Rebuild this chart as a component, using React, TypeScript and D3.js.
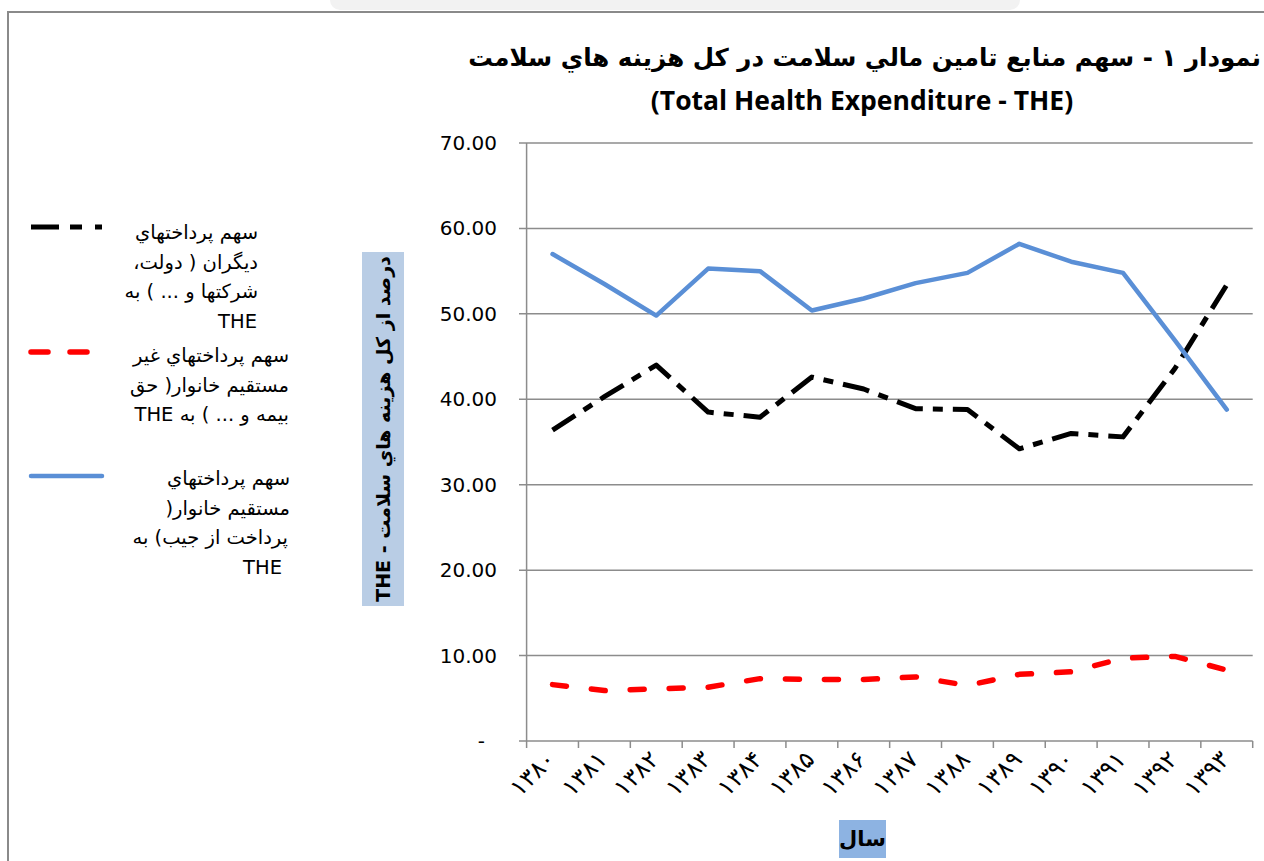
import React, { useEffect, useRef } from "react";
import * as d3 from "d3";

// years (Persian calendar) and shares of THE
const years = ["۱۳۸۰", "۱۳۸۱", "۱۳۸۲", "۱۳۸۳", "۱۳۸۴", "۱۳۸۵", "۱۳۸۶", "۱۳۸۷", "۱۳۸۸", "۱۳۸۹", "۱۳۹۰", "۱۳۹۱", "۱۳۹۲", "۱۳۹۳"];
const others = [36.4, 40.3, 44.0, 38.5, 37.9, 42.6, 41.2, 38.9, 38.8, 34.2, 36.0, 35.6, 43.6, 53.4];
const indirect = [6.6, 5.9, 6.1, 6.3, 7.3, 7.2, 7.2, 7.5, 6.5, 7.8, 8.1, 9.7, 9.9, 8.3];
const direct = [57.0, 53.5, 49.8, 55.3, 55.0, 50.4, 51.8, 53.6, 54.8, 58.2, 56.1, 54.8, 46.9, 38.8];
const yTicks = [0, 10, 20, 30, 40, 50, 60, 70];

const legendItems = [
  { lines: ["سهم پرداختهاي", "ديگران ( دولت،", "شرکتها و ... ) به", "THE"], right: [258, 258, 258, 257], y: 232, sample: 227 },
  { lines: ["سهم پرداختهاي غير", "مستقيم خانوار( حق", "بيمه و ... )  به THE"], right: [289, 289, 289], y: 355, sample: 352 },
  { lines: ["سهم  پرداختهاي", "مستقيم  خانوار(", "پرداخت از جيب) به", "THE"], right: [290, 290, 288, 282], y: 478, sample: 476 },
];

const styles = [
  { color: "#000000", width: 5, dash: "27 10 10 10", cap: "butt" },
  { color: "#ff0000", width: 5.5, dash: "14 25", cap: "round" },
  { color: "#5a8fd6", width: 4.5, dash: null, cap: "round" },
];

const App = () => {
  const ref = useRef<SVGSVGElement>(null);

  useEffect(() => {
    const width = 1264;
    const height = 861;
    const svg = d3.select(ref.current).attr("width", width).attr("height", height);
    svg.selectAll("*").remove();

    const font = "'DejaVu Sans', sans-serif";

    // faint tab at the top and frame
    svg.append("rect").attr("x", 330).attr("y", -10).attr("width", 690).attr("height", 20)
      .attr("rx", 10).attr("fill", "#f2f2f2");
    svg.append("path").attr("d", `M8,861 V12 H1264`).attr("fill", "none")
      .attr("stroke", "#8a8a8a").attr("stroke-width", 2);

    const x = d3.scaleBand().domain(years).range([526.6, 1252.7]);
    const y = d3.scaleLinear().domain([0, 70]).range([741, 143]);
    const cx = (d: string) => (x(d) as number) + x.bandwidth() / 2;

    const g = svg.append("g");

    // gridlines + y ticks
    g.selectAll(".grid").data(yTicks).enter().append("line")
      .attr("x1", 519).attr("x2", 1252.7)
      .attr("y1", (d) => y(d)).attr("y2", (d) => y(d))
      .attr("stroke", "#8c8c8c").attr("stroke-width", 1.5);
    g.append("line").attr("x1", x.range()[0]).attr("x2", x.range()[0])
      .attr("y1", y(70)).attr("y2", y(0)).attr("stroke", "#8c8c8c").attr("stroke-width", 1.5);
    g.selectAll(".ylab").data(yTicks).enter().append("text")
      .attr("x", (d) => (d === 0 ? 485 : 497))
      .attr("y", (d) => y(d) + 7)
      .attr("text-anchor", "end")
      .attr("font-family", font).attr("font-size", 20).attr("fill", "#000")
      .text((d) => (d === 0 ? "-" : d.toFixed(2)));

    // x ticks
    const edges = years.map((d) => x(d) as number).concat([x.range()[1]]);
    g.selectAll(".xt").data(edges).enter().append("line")
      .attr("x1", (d) => d).attr("x2", (d) => d)
      .attr("y1", y(0)).attr("y2", y(0) + 7)
      .attr("stroke", "#8c8c8c").attr("stroke-width", 1.5);
    g.selectAll(".xlab").data(years).enter().append("text")
      .attr("transform", (d) => `translate(${cx(d) + 4},${y(0) + 20}) rotate(-45)`)
      .attr("text-anchor", "end")
      .attr("font-family", font).attr("font-size", 24).attr("fill", "#000")
      .text((d) => d);

    // series
    const series = [others, indirect, direct];
    series.forEach((vals, i) => {
      const st = styles[i];
      const line = d3.line<number>().x((_, j) => cx(years[j])).y((d) => y(d));
      const p = g.append("path").attr("d", line(vals)).attr("fill", "none")
        .attr("stroke", st.color).attr("stroke-width", st.width)
        .attr("stroke-linecap", st.cap).attr("stroke-linejoin", "round");
      if (st.dash) p.attr("stroke-dasharray", st.dash);
    });

    // legend
    legendItems.forEach((item, i) => {
      const st = styles[i];
      const s = svg.append("line").attr("x1", 31).attr("x2", 102)
        .attr("y1", item.sample).attr("y2", item.sample)
        .attr("stroke", st.color).attr("stroke-width", st.width).attr("stroke-linecap", st.cap);
      if (st.dash) s.attr("stroke-dasharray", i === 0 ? "28 11 12 13" : "17 22");
      item.lines.forEach((t, k) => {
        svg.append("text").attr("x", item.right[k]).attr("y", item.y + k * 29.5 + 7)
          .attr("direction", "rtl").attr("text-anchor", "start")
          .attr("font-family", font).attr("font-size", 19.5).attr("fill", "#000")
          .text(t);
      });
    });

    // y title
    svg.append("rect").attr("x", 362).attr("y", 252).attr("width", 42).attr("height", 354).attr("fill", "#b9cde5");
    svg.append("text").attr("transform", "translate(390,429) rotate(-90)")
      .attr("direction", "rtl").attr("text-anchor", "middle")
      .attr("font-family", font).attr("font-size", 19).attr("font-weight", "bold")
      .text("درصد از کل هزينه هاي سلامت - THE");

    // x title
    svg.append("rect").attr("x", 839).attr("y", 820).attr("width", 47).attr("height", 38).attr("fill", "#8db3e2");
    svg.append("text").attr("x", 862.5).attr("y", 846)
      .attr("direction", "rtl").attr("text-anchor", "middle")
      .attr("font-family", font).attr("font-size", 21).attr("font-weight", "bold")
      .text("سال");

    // title
    svg.append("text").attr("x", 1261).attr("y", 66)
      .attr("direction", "rtl").attr("text-anchor", "start")
      .attr("font-family", font).attr("font-size", 24.5).attr("font-weight", "bold")
      .text("نمودار ۱ - سهم منابع تامين مالي سلامت در کل هزينه هاي سلامت");
    svg.append("text").attr("x", 862).attr("y", 110)
      .attr("text-anchor", "middle")
      .attr("font-family", "'Open Sans', 'DejaVu Sans', sans-serif").attr("font-size", 26.5).attr("font-weight", "bold")
      .text("(Total Health Expenditure - THE)");
  });

  return (
    <div style={{ position: "absolute", left: 0, top: 0, width: 1264, height: 861, overflow: "hidden", background: "#fff" }}>
      <svg ref={ref}></svg>
    </div>
  );
};

export default App;
